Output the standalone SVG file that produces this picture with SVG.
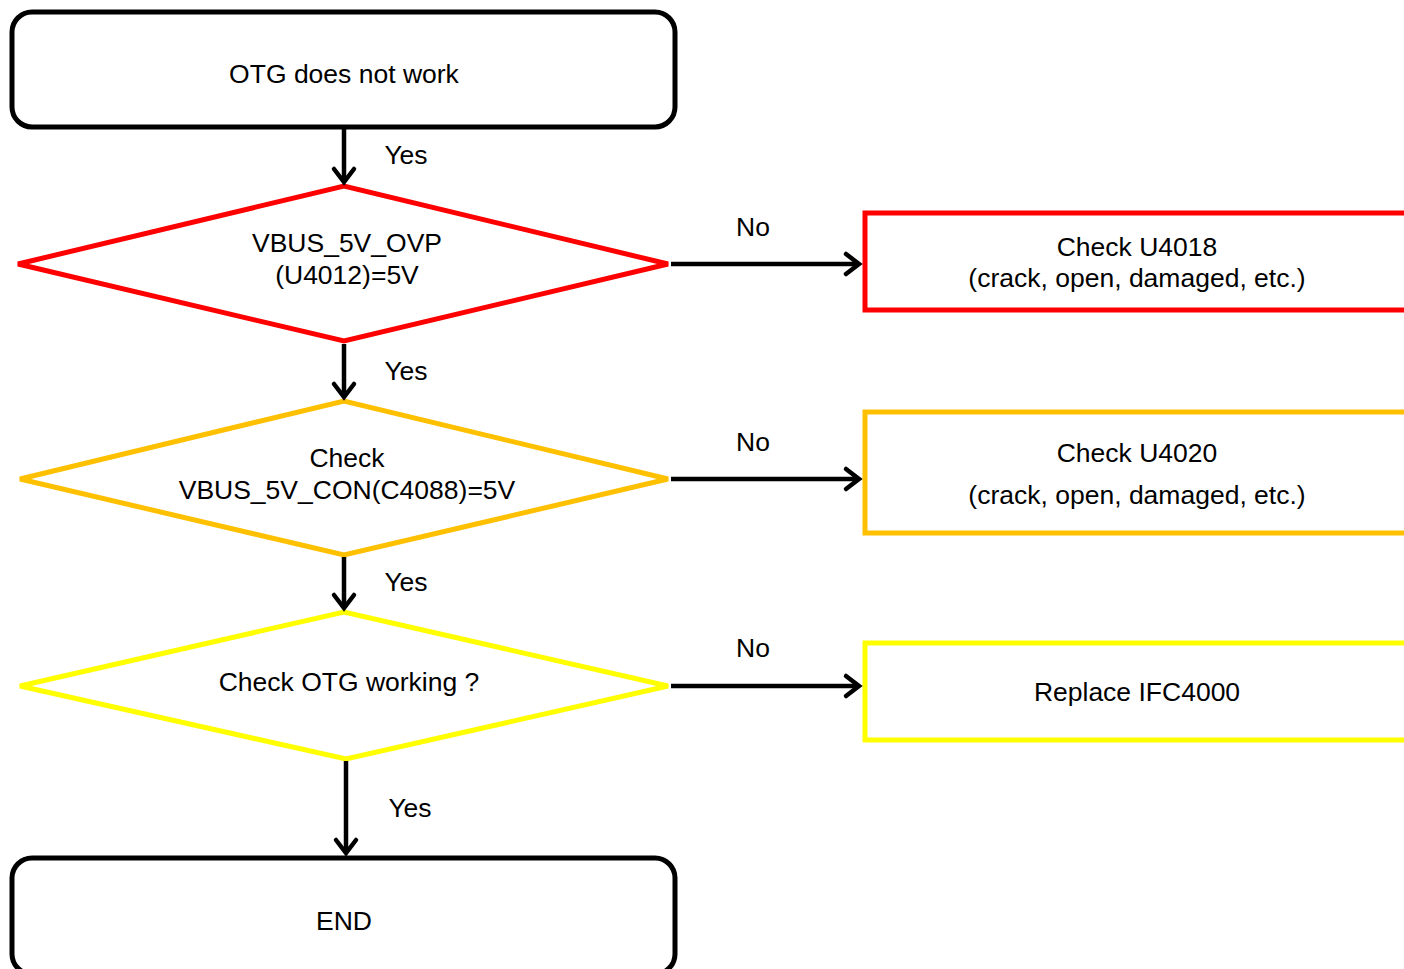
<svg xmlns="http://www.w3.org/2000/svg" width="1404" height="969" viewBox="0 0 1404 969">
<style>
text{font-family:"Liberation Sans",Arial,sans-serif;font-size:26.5px;fill:#000;text-anchor:middle}
.term{fill:#fff;stroke:#000;stroke-width:5}
.conn{stroke:#000;stroke-width:4.5;fill:none}
.head{stroke:#000;stroke-width:4.5;fill:none;stroke-linecap:round;stroke-linejoin:miter}
</style>
<rect width="1404" height="969" fill="#fff"/>
<g id="start"><rect class="term" x="12" y="12" width="663" height="115" rx="20"/><text x="344" y="83">OTG does not work</text></g>
<g id="d1"><polygon points="18,264 344,186 668,264 344,341" fill="#fff" stroke="#ff0000" stroke-width="5"/><text x="347" y="252">VBUS_5V_OVP</text><text x="347" y="284">(U4012)=5V</text></g>
<g id="d2"><polygon points="20,479 344,401 668,479 344,555" fill="#fff" stroke="#ffc000" stroke-width="5"/><text x="347" y="467">Check</text><text x="347" y="499">VBUS_5V_CON(C4088)=5V</text></g>
<g id="d3"><polygon points="20,686 344,612 668,686 346,759" fill="#fff" stroke="#ffff00" stroke-width="5"/><text x="349" y="691">Check OTG working ?</text></g>
<g id="b1"><rect x="865" y="213" width="600" height="97" fill="#fff" stroke="#ff0000" stroke-width="5"/><text x="1137" y="256">Check U4018</text><text x="1137" y="287">(crack, open, damaged, etc.)</text></g>
<g id="b2"><rect x="865" y="412" width="600" height="121" fill="#fff" stroke="#ffc000" stroke-width="5"/><text x="1137" y="462">Check U4020</text><text x="1137" y="504">(crack, open, damaged, etc.)</text></g>
<g id="b3"><rect x="865" y="643" width="600" height="97" fill="#fff" stroke="#ffff00" stroke-width="5"/><text x="1137" y="701">Replace IFC4000</text></g>
<g id="end"><rect class="term" x="12" y="858" width="663" height="116" rx="20"/><text x="344" y="930">END</text></g>
<g id="connectors">
<line class="conn" x1="344" y1="129" x2="344" y2="181"/>
<path class="head" d="M334,169 L344,182 L354,169"/>
<line class="conn" x1="344" y1="344" x2="344" y2="396"/>
<path class="head" d="M334,384 L344,397 L354,384"/>
<line class="conn" x1="344" y1="557" x2="344" y2="607"/>
<path class="head" d="M334,595 L344,608 L354,595"/>
<line class="conn" x1="346" y1="761" x2="346" y2="852"/>
<path class="head" d="M336,840 L346,853 L356,840"/>
<line class="conn" x1="671" y1="264" x2="858" y2="264"/>
<path class="head" d="M846,254 L859,264 L846,274"/>
<line class="conn" x1="671" y1="479" x2="858" y2="479"/>
<path class="head" d="M846,469 L859,479 L846,489"/>
<line class="conn" x1="671" y1="686" x2="858" y2="686"/>
<path class="head" d="M846,676 L859,686 L846,696"/>
<text x="406" y="164">Yes</text>
<text x="406" y="380">Yes</text>
<text x="406" y="591">Yes</text>
<text x="410" y="817">Yes</text>
<text x="753" y="236">No</text>
<text x="753" y="451">No</text>
<text x="753" y="657">No</text>
</g>
</svg>
